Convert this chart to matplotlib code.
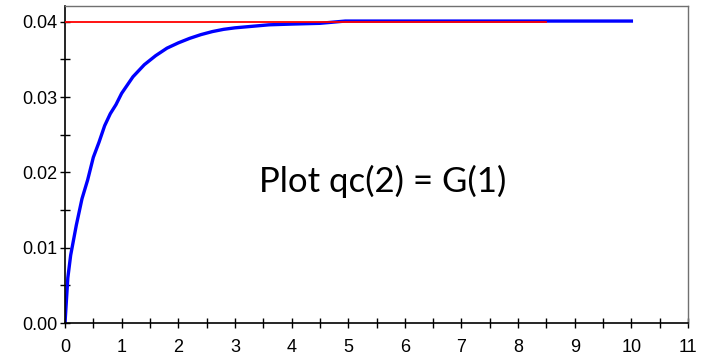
import matplotlib
matplotlib.use('Agg')
import matplotlib.pyplot as plt
from matplotlib.ticker import MultipleLocator, FormatStrFormatter

plt.rcParams['font.family'] = ['Liberation Sans', 'DejaVu Sans']

# blue curve
x_qc = [0, 0.05, 0.1, 0.2, 0.3, 0.4, 0.5, 0.6, 0.7, 0.8, 0.9, 1.0, 1.2, 1.4, 1.6,
        1.8, 2.0, 2.2, 2.4, 2.6, 2.8, 3.0, 3.3, 3.6, 4.0, 4.5, 4.95, 10.0]
y_qc = [0, 0.0060, 0.0090, 0.0130, 0.0165, 0.0190, 0.0220, 0.0240, 0.0262, 0.0278,
        0.0290, 0.0305, 0.0327, 0.0343, 0.0355, 0.0365, 0.0372, 0.0378, 0.0383,
        0.0387, 0.0390, 0.0392, 0.0394, 0.0396, 0.0397, 0.0398, 0.0401, 0.0401]

# red reference line
x_g = [0, 8.5]
y_g = [0.04, 0.04]

label = 'Plot qc(2) = G(1)'

fig = plt.figure(figsize=(7.02, 3.57), dpi=100)
ax = fig.add_axes([65/702, 34/357, 623/702, 317/357])

ax.plot(x_g, y_g, color='red', lw=1.3, zorder=3)
ax.plot(x_qc, y_qc, color='blue', lw=2.4, zorder=2)

ax.set_xlim(0, 11)
ax.set_ylim(0, 0.0421)
ax.xaxis.set_major_locator(MultipleLocator(1))
ax.xaxis.set_minor_locator(MultipleLocator(0.5))
ax.yaxis.set_major_locator(MultipleLocator(0.01))
ax.yaxis.set_minor_locator(MultipleLocator(0.005))
ax.yaxis.set_major_formatter(FormatStrFormatter('%.2f'))

for s in ['left', 'bottom']:
    ax.spines[s].set_color('black')
    ax.spines[s].set_linewidth(1.2)
for s in ['top', 'right']:
    ax.spines[s].set_color('#707070')
    ax.spines[s].set_linewidth(1.0)

ax.tick_params(which='both', direction='inout', length=7, width=1, color='black',
               labelsize=13)
ax.tick_params(axis='x', pad=8)
ax.tick_params(axis='y', pad=2)

ax.text(0.51, 0.448, label, transform=ax.transAxes, ha='center', va='center',
        fontsize=25, family='Lato')

plt.savefig('out.png', dpi=100)
